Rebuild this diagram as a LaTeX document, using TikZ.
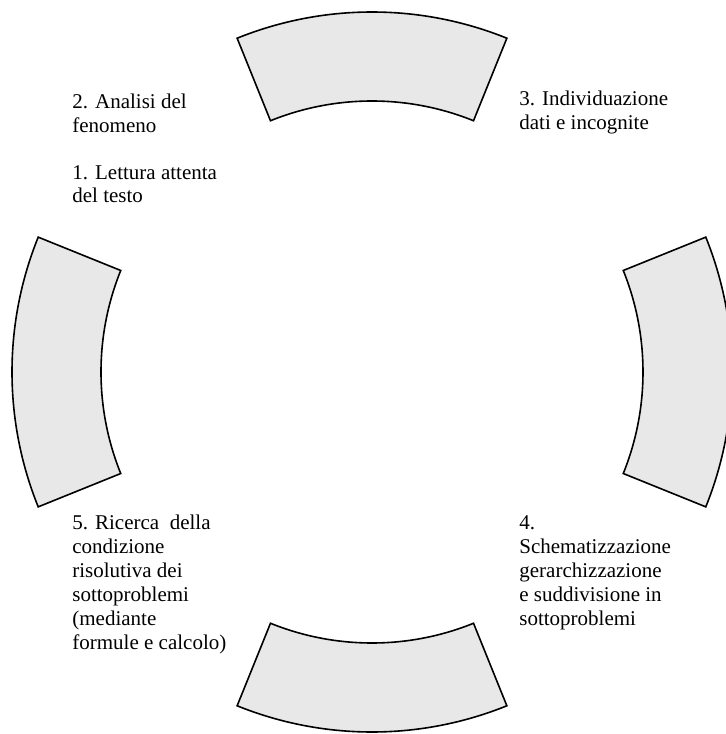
\documentclass[tikz,border=0pt]{standalone}
\usepackage{fontspec}
\setmainfont{Liberation Serif}
\definecolor{segfill}{HTML}{E8E8E8}
\begin{document}
\begin{tikzpicture}[x=0.5pt, y=0.5pt,
segment/.style={draw=black, fill=segfill, line width=0.8pt},
phase/.style={anchor=base west, align=left, inner sep=0pt, font=\fontsize{10.5}{12}\selectfont},
]
\clip (-372,-362) rectangle (354,372);
% four ring segments
\foreach \a in {0,90,180,270}
  \draw[segment] (\a-22:271) arc[start angle=\a-22, end angle=\a+22, radius=271]
    -- (\a+22:360) arc[start angle=\a+22, end angle=\a-22, radius=360] -- cycle;
% step texts (anchored on their last line)
\node[phase] (analisi) at (-300,239) {2. Analisi del\\fenomeno};
\node[phase] (lettura) at (-300,169) {1. Lettura attenta\\del testo};
\node[phase] (dati) at (147,242) {3. Individuazione\\dati e incognite};
\node[phase] (schema) at (147,-253) {4.\\Schematizzazione\\gerarchizzazione\\e suddivisione in\\sottoproblemi};
\node[phase] (ricerca) at (-300,-277) {5. Ricerca~ della\\condizione\\risolutiva dei\\sottoproblemi\\(mediante\\formule e calcolo)};
\end{tikzpicture}
\end{document}
